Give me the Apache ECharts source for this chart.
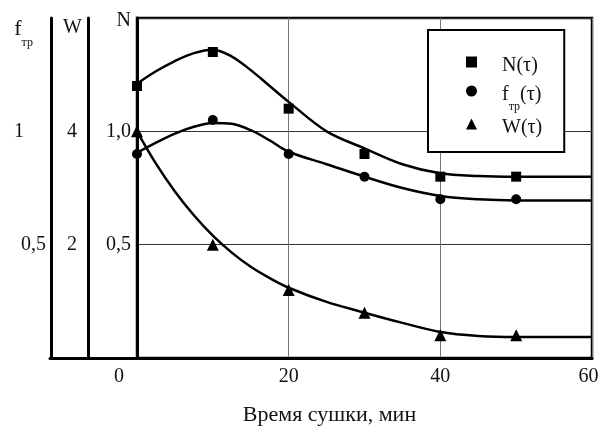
<!DOCTYPE html>
<html>
<head>
<meta charset="utf-8">
<script src="https://cdn.jsdelivr.net/npm/echarts@6/dist/echarts.min.js"></script>
<style>
html,body{margin:0;padding:0;background:#fff;}
#c{width:599px;height:426px;}
</style>
</head>
<body>
<div id="c"></div>
<script>
// Measured points
var tau = [0, 10, 20, 30, 40, 50];
var nPoints = [1.2, 1.35, 1.1, 0.9, 0.8, 0.8];
var fPoints = [0.9, 1.05, 0.9, 0.8, 0.7, 0.7];
var wPoints = [4.0, 2.0, 1.2, 0.8, 0.4, 0.4];

// Fitted curves
var tauCurve = [0, 2.5, 5, 7.5, 10, 12.5, 15, 17.5, 20, 25, 30, 35, 40, 45, 50, 60];
var nCurve = [1.21, 1.265, 1.31, 1.345, 1.36, 1.33, 1.27, 1.20, 1.13, 1.0, 0.925, 0.855, 0.815, 0.803, 0.80, 0.80];
var fCurve = [0.905, 0.95, 0.99, 1.02, 1.037, 1.033, 1.005, 0.96, 0.91, 0.855, 0.80, 0.75, 0.715, 0.70, 0.695, 0.695];
var wCurve = [4.0, 3.43, 2.94, 2.52, 2.16, 1.86, 1.61, 1.41, 1.24, 0.99, 0.80, 0.62, 0.46, 0.39, 0.37, 0.37];

// Tick labels
var xTicks = [0, 20, 40, 60];
var xTickLabels = ['0', '20', '40', '60'];
var nTicks = [0.5, 1.0];
var nTickLabels = ['0,5', '1,0'];
var wTicks = [2, 4];
var wTickLabels = ['2', '4'];
var fTicks = [0.5, 1.0];
var fTickLabels = ['0,5', '1'];

var seriesNames = ['N(τ)', 'fтр(τ)', 'W(τ)'];

function pairs(xs, ys) { return xs.map(function (x, i) { return [x, ys[i]]; }); }
function lookup(ticks, labels, v) {
  for (var i = 0; i < ticks.length; i++) if (Math.abs(ticks[i] - v) < 1e-9) return labels[i];
  return '';
}

var FONT = 'Liberation Serif';
var TXT = '#111';
var FS = 20;

var chart = echarts.init(document.getElementById('c'), null, { renderer: 'canvas' });
var option = {
  animation: false,
  backgroundColor: '#fff',
  textStyle: { fontFamily: FONT, color: TXT },
  grid: [
    { left: 137, right: 7, top: 18, bottom: 68, show: true, borderColor: '#000', borderWidth: 2.5, containLabel: false, outerBoundsMode: 'none' },
    { left: 50, width: 87, top: 18, bottom: 68, show: false, containLabel: false, outerBoundsMode: 'none' }
  ],
  legend: {
    data: seriesNames,
    orient: 'vertical',
    left: 428, top: 30,
    padding: [21, 22, 10, 38],
    itemWidth: 11, itemHeight: 11,
    itemGap: 0,
    backgroundColor: '#fff',
    borderColor: '#000', borderWidth: 2,
    textStyle: {
      fontFamily: FONT, fontSize: FS, color: TXT,
      rich: {
        a: { fontFamily: FONT, fontSize: FS, color: TXT, verticalAlign: 'top', lineHeight: 22, padding: [4.5, 0, 4.5, 0] },
        p: { fontFamily: FONT, fontSize: FS, color: TXT, verticalAlign: 'top', lineHeight: 22, padding: [4.5, 0, 4.5, 20] },
        s: { fontFamily: FONT, fontSize: 12, color: TXT, verticalAlign: 'top', lineHeight: 10, padding: [21, 0, 0, 0] }
      }
    },
    formatter: function (name) {
      if (name === seriesNames[1]) return '{p|f}{s|тр}{a|(τ)}';
      return '{p|' + name + '}';
    }
  },
  xAxis: [
    {
      gridIndex: 0, type: 'value', min: 0, max: 60, interval: 20,
      axisLine: { show: true, onZero: false, lineStyle: { color: '#000', width: 3 } },
      axisTick: { show: false },
      splitLine: { show: true, lineStyle: { color: '#777', width: 1 } },
      axisLabel: {
        fontFamily: FONT, fontSize: FS, color: TXT, margin: 9,
        formatter: function (v) {
          var t = lookup(xTicks, xTickLabels, v);
          if (v === 0) return '{z|' + t + '}';
          if (v === 60) return '{e|' + t + '}';
          return t;
        },
        rich: {
          z: { fontFamily: FONT, fontSize: FS, color: TXT, padding: [0, 36, 0, 0] },
          e: { fontFamily: FONT, fontSize: FS, color: TXT, padding: [0, 7, 0, 0] }
        }
      },
      name: 'Время сушки, мин',
      nameLocation: 'middle',
      nameGap: 46,
      nameTextStyle: { fontFamily: FONT, fontSize: 22, color: TXT, padding: [0, 70, 0, 0] }
    },
    {
      gridIndex: 1, type: 'value', min: 0, max: 1,
      axisLine: { show: true, lineStyle: { color: '#000', width: 3 } },
      axisTick: { show: false }, axisLabel: { show: false }, splitLine: { show: false }
    }
  ],
  yAxis: [
    {
      gridIndex: 0, type: 'value', min: 0, max: 1.5, interval: 0.5, position: 'left',
      axisLine: { show: true, onZero: false, lineStyle: { color: '#000', width: 3 } },
      axisTick: { show: false },
      splitLine: { show: true, lineStyle: { color: '#333', width: 1 } },
      axisLabel: { fontFamily: FONT, fontSize: FS, color: TXT, margin: 6,
        formatter: function (v) { return lookup(nTicks, nTickLabels, v); } },
      name: 'N', nameLocation: 'end', nameGap: -3,
      nameTextStyle: { fontFamily: FONT, fontSize: FS, color: TXT, align: 'right', verticalAlign: 'middle', padding: [0, 6, 0, 0] }
    },
    {
      gridIndex: 0, type: 'value', min: 0, max: 6, interval: 2, position: 'left', offset: 49,
      axisLine: { show: true, onZero: false, lineStyle: { color: '#000', width: 3 } },
      axisTick: { show: false }, splitLine: { show: false },
      axisLabel: { fontFamily: FONT, fontSize: FS, color: TXT, margin: 11,
        formatter: function (v) { return lookup(wTicks, wTickLabels, v); } },
      name: 'W', nameLocation: 'end', nameGap: 0,
      nameTextStyle: { fontFamily: FONT, fontSize: FS, color: TXT, align: 'right', verticalAlign: 'top', padding: [0, 6, 0, 0] }
    },
    {
      gridIndex: 0, type: 'value', min: 0, max: 1.5, interval: 0.5, position: 'left', offset: 86,
      axisLine: { show: true, onZero: false, lineStyle: { color: '#000', width: 3 } },
      axisTick: { show: false }, splitLine: { show: false },
      axisLabel: { fontFamily: FONT, fontSize: FS, color: TXT, margin: 5,
        formatter: function (v) {
          var t = lookup(fTicks, fTickLabels, v);
          return v === 1 ? '{o|' + t + '}' : t;
        },
        rich: { o: { fontFamily: FONT, fontSize: FS, color: TXT, padding: [0, 22, 0, 0] } }
      },
      name: '{a|f}{s|тр}', nameLocation: 'end', nameGap: 0,
      nameTextStyle: { align: 'right', verticalAlign: 'top', padding: [0, 18, 0, 0],
        rich: {
          a: { fontFamily: FONT, fontSize: 22, color: TXT, verticalAlign: 'top', lineHeight: 22 },
          s: { fontFamily: FONT, fontSize: 12, color: TXT, verticalAlign: 'bottom', padding: [19, 0, 0, 0] }
        }
      }
    },
    { gridIndex: 1, type: 'value', min: 0, max: 1, show: false }
  ],
  series: [
    { name: 'N curve', type: 'line', xAxisIndex: 0, yAxisIndex: 0, data: pairs(tauCurve, nCurve), smooth: 0.35, showSymbol: false, lineStyle: { color: '#000', width: 2.5 }, silent: true, z: 3 },
    { name: 'f curve', type: 'line', xAxisIndex: 0, yAxisIndex: 2, data: pairs(tauCurve, fCurve), smooth: 0.35, showSymbol: false, lineStyle: { color: '#000', width: 2.5 }, silent: true, z: 3 },
    { name: 'W curve', type: 'line', xAxisIndex: 0, yAxisIndex: 1, data: pairs(tauCurve, wCurve), smooth: 0.35, showSymbol: false, lineStyle: { color: '#000', width: 2.5 }, silent: true, z: 3 },
    { name: seriesNames[0], type: 'scatter', xAxisIndex: 0, yAxisIndex: 0, data: pairs(tau, nPoints), symbol: 'rect', symbolSize: 10, itemStyle: { color: '#000', opacity: 1 }, z: 4 },
    { name: seriesNames[1], type: 'scatter', xAxisIndex: 0, yAxisIndex: 2, data: pairs(tau, fPoints), symbol: 'circle', symbolSize: 10, itemStyle: { color: '#000', opacity: 1 }, z: 4 },
    { name: seriesNames[2], type: 'scatter', xAxisIndex: 0, yAxisIndex: 1, data: pairs(tau, wPoints), symbol: 'triangle', symbolSize: 12, itemStyle: { color: '#000', opacity: 1 }, z: 4 }
  ]
};
chart.setOption(option);
</script>
</body>
</html>
